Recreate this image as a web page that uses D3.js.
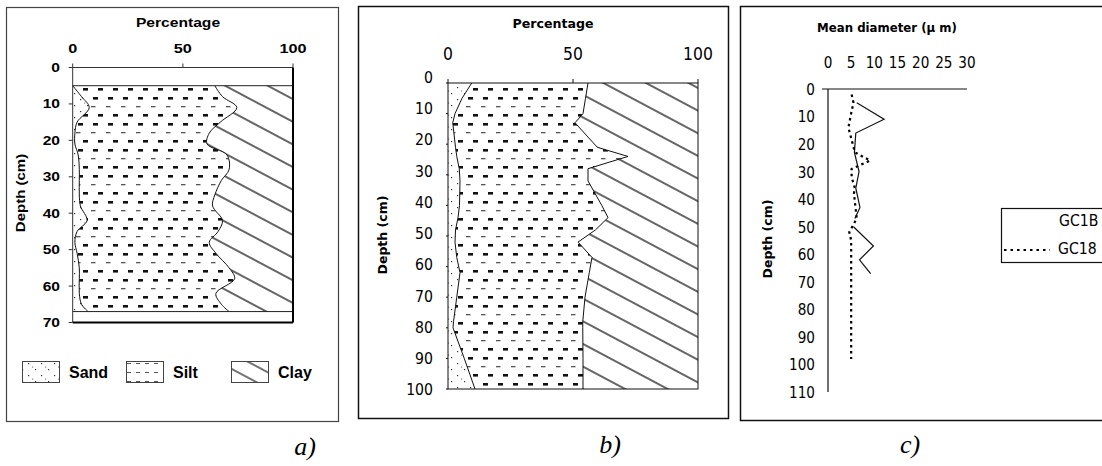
<!DOCTYPE html>
<html>
<head>
<meta charset="utf-8">
<script src="https://cdn.jsdelivr.net/npm/d3@7/dist/d3.min.js"></script>
<style>
  body { margin: 0; background: #fff; }
</style>
</head>
<body>
<div id="chart"></div>
<script>
// a) texture profile, depth in cm, cumulative % at each boundary
var depthA = [5, 8, 11, 15, 18, 21, 24, 28, 31, 35, 38, 42, 45, 48, 51, 55, 58, 62, 65, 67];
var sandA  = [0, 4, 7.5, 2, 1, 1, 2.5, 3, 3, 3, 3.5, 6.5, 2, 1, 2, 3, 3, 3, 4, 7];
var siltA  = [64.5, 68, 74.5, 67, 62, 61, 70, 71, 67.5, 64.5, 63.5, 68, 66, 62, 65, 71, 73.5, 65, 67.5, 71];
var depthTicksA = [0, 10, 20, 30, 40, 50, 60, 70];

// b) texture profile
var depthB = [0, 5, 10, 13, 21, 24, 28, 32, 40, 44, 48, 52, 57, 62, 70, 78, 80, 90, 100];
var sandB  = [9.5, 5.6, 2.8, 1.9, 3, 3.5, 4.5, 4.8, 4.6, 4, 3, 2.8, 3.5, 4.8, 3.5, 2.2, 2, 6.5, 10.8];
var siltB  = [56, 55, 54, 50.8, 59.7, 72, 56, 56, 61.5, 64, 59, 52, 57.6, 56.5, 54.8, 53.9, 53.9, 54, 54];
var depthTicksB = [0, 10, 20, 30, 40, 50, 60, 70, 80, 90, 100];

var pctTicks = [0, 50, 100];
var legendA = ["Sand", "Silt", "Clay"];

// c) mean diameter (um) with depth
var gc1bDepth = [5, 11, 16, 23, 30, 36, 43, 47, 48, 50, 57, 62, 67];
var gc1bMean  = [6.2, 12.1, 6.0, 5.7, 6.7, 6.0, 6.9, 5.8, null, 5.5, 9.8, 6.8, 9.2];
var gc18Depth = [2, 5, 8, 14, 21, 23, 26, 29, 32, 36, 38, 47, 52, 55, 98];
var gc18Mean  = [5.1, 5.5, 5.1, 4.4, 5.5, 5.8, 9.1, 5.1, 5.1, 5.8, 5.6, 6.2, 4.6, 5.0, 5.0];
var diamTicks = [0, 5, 10, 15, 20, 25, 30];
var depthTicksC = [0, 10, 20, 30, 40, 50, 60, 70, 80, 90, 100, 110];
var seriesC = ["GC1B", "GC18"];

var W = 1102, H = 466;
var svg = d3.select("#chart").append("svg")
    .attr("width", W).attr("height", H);

var ARIAL = "'Liberation Sans', Arial, sans-serif";
var TAHOMA = "'DejaVu Sans', sans-serif";
var SERIF = "'Liberation Serif', 'Times New Roman', serif";

function label(g, x, y, s, o) {
    o = o || {};
    var tr = "translate(" + x + "," + y + ")";
    if (o.rot) tr += " rotate(" + o.rot + ")";
    if (o.sx) tr += " scale(" + o.sx + ",1)";
    return g.append("text")
        .attr("transform", tr)
        .attr("text-anchor", o.anchor || "middle")
        .attr("dominant-baseline", o.base || "auto")
        .style("font-family", o.family || ARIAL)
        .style("font-size", (o.size || 12) + "px")
        .style("font-weight", o.bold ? "bold" : "normal")
        .style("font-style", o.italic ? "italic" : "normal")
        .style("fill", "#000")
        .text(s);
}

// patterns
var defs = svg.append("defs");
var pSand = defs.append("pattern").attr("id", "sand")
    .attr("patternUnits", "userSpaceOnUse").attr("width", 13).attr("height", 12);
[[2, 3], [9, 9], [6, 6.5]].forEach(function (p, i) {
    pSand.append("rect").attr("x", p[0]).attr("y", p[1])
        .attr("width", 1.2).attr("height", 1.2).attr("fill", i == 2 ? "#888" : "#333");
});
var pSilt = defs.append("pattern").attr("id", "silt")
    .attr("patternUnits", "userSpaceOnUse").attr("width", 15).attr("height", 26);
pSilt.append("rect").attr("x", 1).attr("y", 2).attr("width", 4.5).attr("height", 1.3).attr("fill", "#555");
pSilt.append("rect").attr("x", 8).attr("y", 10).attr("width", 5).attr("height", 2.6).attr("fill", "#111");
pSilt.append("rect").attr("x", 3).attr("y", 19).attr("width", 5).attr("height", 2.6).attr("fill", "#111");
var pSiltL = defs.append("pattern").attr("id", "siltLegend")
    .attr("patternUnits", "userSpaceOnUse").attr("width", 9).attr("height", 9);
pSiltL.append("rect").attr("x", 1).attr("y", 3).attr("width", 4).attr("height", 1).attr("fill", "#555");
var pClay = defs.append("pattern").attr("id", "clay")
    .attr("patternUnits", "userSpaceOnUse").attr("width", 20).attr("height", 20)
    .attr("patternTransform", "rotate(28)");
pClay.append("line").attr("x1", 0).attr("x2", 20).attr("y1", 10).attr("y2", 10)
    .attr("stroke", "#000").attr("stroke-width", 1.2);
var pClayL = defs.append("pattern").attr("id", "clayLegend")
    .attr("patternUnits", "userSpaceOnUse").attr("width", 14).attr("height", 14)
    .attr("patternTransform", "rotate(28)");
pClayL.append("line").attr("x1", 0).attr("x2", 14).attr("y1", 7).attr("y2", 7)
    .attr("stroke", "#000").attr("stroke-width", 1.1);

// frames round each panel
svg.append("rect").attr("x", 6.5).attr("y", 7.5).attr("width", 332).attr("height", 414)
    .attr("fill", "none").attr("stroke", "#444").attr("stroke-width", 1.2);
svg.append("rect").attr("x", 358.5).attr("y", 6.5).attr("width", 370).attr("height", 412)
    .attr("fill", "none").attr("stroke", "#111").attr("stroke-width", 1.5);
svg.append("rect").attr("x", 740.5).attr("y", 6.5).attr("width", 400).attr("height", 414)
    .attr("fill", "none").attr("stroke", "#111").attr("stroke-width", 1.5);

// ---------------- panel a ----------------
var ga = svg.append("g");
var xa = d3.scaleLinear().domain([0, 100]).range([72.7, 293]);
var ya = d3.scaleLinear().domain([0, 70]).range([67.5, 322.5]);
var ptsA = depthA.map(function (d, i) { return {d: d, s: sandA[i], t: siltA[i]}; });
var curveA = d3.curveCatmullRom;

ga.append("path").datum(ptsA)
    .attr("d", d3.area().curve(curveA).y(function (p) { return ya(p.d); })
        .x0(xa(0)).x1(function (p) { return xa(p.s); }))
    .attr("fill", "url(#sand)");
ga.append("path").datum(ptsA)
    .attr("d", d3.area().curve(curveA).y(function (p) { return ya(p.d); })
        .x0(function (p) { return xa(p.s); }).x1(function (p) { return xa(p.t); }))
    .attr("fill", "url(#silt)");
ga.append("path").datum(ptsA)
    .attr("d", d3.area().curve(curveA).y(function (p) { return ya(p.d); })
        .x0(function (p) { return xa(p.t); }).x1(xa(100)))
    .attr("fill", "url(#clay)");
["s", "t"].forEach(function (k) {
    ga.append("path").datum(ptsA)
        .attr("d", d3.line().curve(curveA).x(function (p) { return xa(p[k]); })
            .y(function (p) { return ya(p.d); }))
        .attr("fill", "none").attr("stroke", "#111").attr("stroke-width", 1);
});
[depthA[0], depthA[depthA.length - 1]].forEach(function (d) {
    ga.append("line").attr("x1", xa(0)).attr("x2", xa(100))
        .attr("y1", ya(d)).attr("y2", ya(d))
        .attr("stroke", "#222").attr("stroke-width", 1);
});
// plot box
ga.append("line").attr("x1", xa(0)).attr("x2", xa(100)).attr("y1", ya(0)).attr("y2", ya(0))
    .attr("stroke", "#333").attr("stroke-width", 1);
ga.append("line").attr("x1", xa(0)).attr("x2", xa(0)).attr("y1", ya(0)).attr("y2", ya(70))
    .attr("stroke", "#333").attr("stroke-width", 1);
ga.append("line").attr("x1", xa(100)).attr("x2", xa(100)).attr("y1", ya(0)).attr("y2", ya(70))
    .attr("stroke", "#000").attr("stroke-width", 2);
ga.append("line").attr("x1", xa(0)).attr("x2", xa(100)).attr("y1", ya(70)).attr("y2", ya(70))
    .attr("stroke", "#000").attr("stroke-width", 2);
pctTicks.forEach(function (v) {
    ga.append("line").attr("x1", xa(v)).attr("x2", xa(v)).attr("y1", ya(0) - 4).attr("y2", ya(0))
        .attr("stroke", "#333");
    label(ga, xa(v), 52.5, v, {bold: true, size: 13, sx: 1.25});
});
depthTicksA.forEach(function (v) {
    ga.append("line").attr("x1", xa(0) - 4).attr("x2", xa(0)).attr("y1", ya(v)).attr("y2", ya(v))
        .attr("stroke", "#333");
    label(ga, 60, ya(v), v, {bold: true, size: 13, sx: 1.2, anchor: "end", base: "central"});
});
label(ga, 178, 26.5, "Percentage", {bold: true, size: 12.5, sx: 1.25});
label(ga, 25, 193, "Depth (cm)", {bold: true, size: 12, rot: -90, sx: 1.25});

// legend a
var legX = [22, 126, 231];
var legFill = ["url(#sand)", "url(#siltLegend)", "url(#clayLegend)"];
legendA.forEach(function (s, i) {
    ga.append("rect").attr("x", legX[i] + 0.5).attr("y", 361.5).attr("width", 37).attr("height", 21)
        .attr("fill", legFill[i]).attr("stroke", "#444").attr("stroke-width", 1);
    label(ga, legX[i] + 47, 378, s, {bold: true, size: 16, sx: 1.0, anchor: "start"});
});
label(svg, 305, 455, "a)", {family: SERIF, italic: true, size: 26});

// ---------------- panel b ----------------
var gb = svg.append("g");
var xb = d3.scaleLinear().domain([0, 100]).range([448, 698]);
var yb = d3.scaleLinear().domain([0, 100]).range([83, 389]);
var ybLab = d3.scaleLinear().domain([0, 100]).range([77.5, 390]);
var ptsB = depthB.map(function (d, i) { return {d: d, s: sandB[i], t: siltB[i]}; });

gb.append("path").datum(ptsB)
    .attr("d", d3.area().y(function (p) { return yb(p.d); })
        .x0(xb(0)).x1(function (p) { return xb(p.s); }))
    .attr("fill", "url(#sand)");
gb.append("path").datum(ptsB)
    .attr("d", d3.area().y(function (p) { return yb(p.d); })
        .x0(function (p) { return xb(p.s); }).x1(function (p) { return xb(p.t); }))
    .attr("fill", "url(#silt)");
gb.append("path").datum(ptsB)
    .attr("d", d3.area().y(function (p) { return yb(p.d); })
        .x0(function (p) { return xb(p.t); }).x1(xb(100)))
    .attr("fill", "url(#clay)");
["s", "t"].forEach(function (k) {
    gb.append("path").datum(ptsB)
        .attr("d", d3.line().x(function (p) { return xb(p[k]); })
            .y(function (p) { return yb(p.d); }))
        .attr("fill", "none").attr("stroke", "#111").attr("stroke-width", 1);
});
gb.append("rect").attr("x", xb(0)).attr("y", yb(0))
    .attr("width", xb(100) - xb(0)).attr("height", yb(100) - yb(0))
    .attr("fill", "none").attr("stroke", "#111").attr("stroke-width", 1);
pctTicks.forEach(function (v) {
    gb.append("line").attr("x1", xb(v)).attr("x2", xb(v)).attr("y1", yb(0) - 4).attr("y2", yb(0))
        .attr("stroke", "#111");
    label(gb, xb(v), 59.5, v, {family: TAHOMA, size: 17, sx: 0.92});
});
depthTicksB.forEach(function (v) {
    gb.append("line").attr("x1", xb(0) - 2).attr("x2", xb(0)).attr("y1", yb(v)).attr("y2", yb(v))
        .attr("stroke", "#111");
    label(gb, 433, ybLab(v), v, {family: TAHOMA, size: 16, sx: 0.88, anchor: "end", base: "central"});
});
label(gb, 553, 28, "Percentage", {family: TAHOMA, bold: true, size: 13, sx: 0.97});
label(gb, 387, 235, "Depth (cm)", {family: TAHOMA, bold: true, size: 12.5, rot: -90});
label(svg, 610, 453, "b)", {family: SERIF, italic: true, size: 26});

// ---------------- panel c ----------------
var gc = svg.append("g");
var xc = d3.scaleLinear().domain([0, 30]).range([828, 967]);
var yc = d3.scaleLinear().domain([0, 110]).range([89, 392]);

gc.append("line").attr("x1", xc(0) - 6).attr("x2", xc(30)).attr("y1", yc(0)).attr("y2", yc(0))
    .attr("stroke", "#111").attr("stroke-width", 1.2);
gc.append("line").attr("x1", xc(0)).attr("x2", xc(0)).attr("y1", yc(0)).attr("y2", yc(110))
    .attr("stroke", "#111").attr("stroke-width", 1.2);
diamTicks.forEach(function (v) {
    label(gc, xc(v), 68, v, {family: TAHOMA, size: 16, sx: 0.85});
});
depthTicksC.forEach(function (v) {
    label(gc, 815, yc(v), v, {family: TAHOMA, size: 16, sx: 0.85, anchor: "end", base: "central"});
});
label(gc, 887, 31.5, "Mean diameter (\u03bc m)", {family: TAHOMA, bold: true, size: 12.5, sx: 0.94});
label(gc, 772, 239, "Depth (cm)", {family: TAHOMA, bold: true, size: 12.5, rot: -90});

var lineC = d3.line()
    .defined(function (p) { return p.v != null; })
    .x(function (p) { return xc(p.v); })
    .y(function (p) { return yc(p.d); });
gc.append("path")
    .datum(gc1bDepth.map(function (d, i) { return {d: d, v: gc1bMean[i]}; }))
    .attr("d", lineC).attr("fill", "none").attr("stroke", "#111").attr("stroke-width", 1.2);
gc.append("path")
    .datum(gc18Depth.map(function (d, i) { return {d: d, v: gc18Mean[i]}; }))
    .attr("d", lineC).attr("fill", "none").attr("stroke", "#000")
    .attr("stroke-width", 2.2).attr("stroke-dasharray", "2.5,3.5");

// legend c (runs past the right edge, as in the reference)
gc.append("rect").attr("x", 1001.5).attr("y", 208.5).attr("width", 200).attr("height", 54)
    .attr("fill", "#fff").attr("stroke", "#111").attr("stroke-width", 1.2);
gc.append("line").attr("x1", 1004).attr("x2", 1050).attr("y1", 250).attr("y2", 250)
    .attr("stroke", "#000").attr("stroke-width", 2).attr("stroke-dasharray", "2.5,4");
label(gc, 1059, 221, seriesC[0], {family: TAHOMA, size: 16, sx: 0.88, anchor: "start", base: "central"});
label(gc, 1058, 249, seriesC[1], {family: TAHOMA, size: 16, sx: 0.88, anchor: "start", base: "central"});
label(svg, 910, 453, "c)", {family: SERIF, italic: true, size: 26});
</script>
</body>
</html>
